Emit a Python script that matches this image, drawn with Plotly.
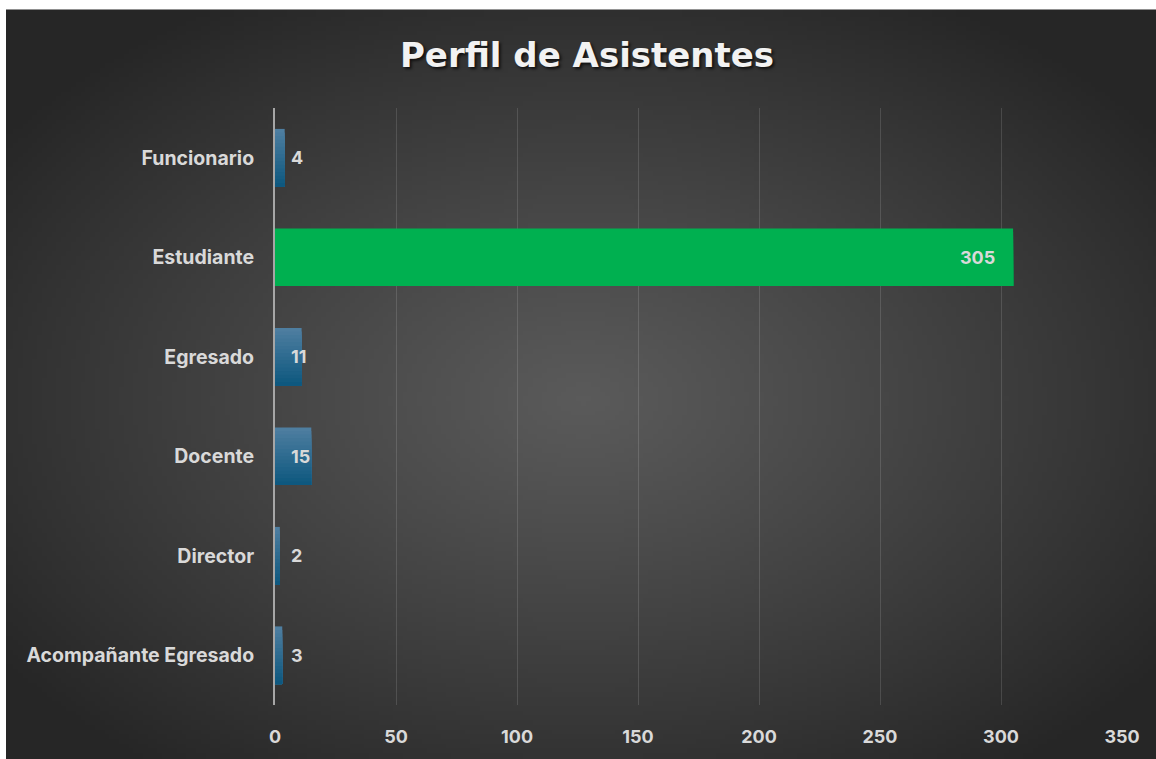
import base64, struct, zlib
import plotly.graph_objects as go

# ---- data ----
categories = ["Funcionario", "Estudiante", "Egresado", "Docente", "Director", "Acompañante Egresado"]
values = [4, 305, 11, 15, 2, 3]
highlight = [False, True, False, False, False, False]
x_ticks = [0, 50, 100, 150, 200, 250, 300, 350]
title_text = "Perfil de Asistentes"

W, H = 1156, 759
PL, PR, PT, PB = 275, 1122, 108, 708  # plot area in pixels


def radial_png(w, h, c_in, c_out, cx=0.5, cy=0.52):
    rows = []
    for j in range(h):
        row = bytearray([0])
        for i in range(w):
            dx = (i / (w - 1) - cx) / 0.62
            dy = (j / (h - 1) - cy) / 0.62
            r = min(1.0, (dx * dx + dy * dy) ** 0.5)
            t = r ** 1.1
            for k in range(3):
                row.append(int(round(c_in[k] + (c_out[k] - c_in[k]) * t)))
        rows.append(bytes(row))
    raw = b"".join(rows)

    def chunk(tag, data):
        c = struct.pack(">I", len(data)) + tag + data
        return c + struct.pack(">I", zlib.crc32(tag + data) & 0xffffffff)

    png = b"\x89PNG\r\n\x1a\n"
    png += chunk(b"IHDR", struct.pack(">IIBBBBB", w, h, 8, 2, 0, 0, 0))
    png += chunk(b"IDAT", zlib.compress(raw, 9))
    png += chunk(b"IEND", b"")
    return "data:image/png;base64," + base64.b64encode(png).decode()


bg_src = radial_png(240, 160, (0x5a, 0x5a, 0x5a), (0x26, 0x26, 0x26))

pw, ph = PR - PL, PB - PT
def px2x(px):
    return (px - PL) / pw
def py2y(py):
    return (PB - py) / ph

bg_x0, bg_y0, bg_x1, bg_y1 = 6, 9, W + 4, H + 4

fig = go.Figure()

# bars drawn as stacked overlapping bands to imitate the vertical gradient fill
BAR_W = 0.58
N = 16
step = BAR_W / N
top_c, bot_c = (78, 126, 160), (14, 88, 127)
green = "#00b050"
for k in range(N):
    t = k / (N - 1)
    c = tuple(int(round(top_c[i] + (bot_c[i] - top_c[i]) * t)) for i in range(3))
    col = "rgb(%d,%d,%d)" % c
    colors = [green if h else col for h in highlight]
    fig.add_trace(go.Bar(
        y=categories, x=values, orientation="h",
        marker=dict(color=colors, line=dict(width=0)),
        width=BAR_W - k * step, offset=-BAR_W / 2 + k * step,
        hoverinfo="x+y" if k == 0 else "skip",
    ))

label_font = dict(family="Inter, Roboto, sans-serif", size=18, color="#d9d9d9", weight="bold")
for c, v in zip(categories, values):
    if v > 100:
        fig.add_annotation(x=v, y=c, text=str(v), showarrow=False, xanchor="right",
                           xshift=-16, font=label_font)
    else:
        fig.add_annotation(x=0, y=c, text=str(v), showarrow=False, xanchor="left",
                           xshift=14, font=label_font)

fig.add_layout_image(dict(
    source=bg_src, xref="paper", yref="paper",
    x=px2x(bg_x0), y=py2y(bg_y0),
    sizex=px2x(bg_x1) - px2x(bg_x0), sizey=py2y(bg_y0) - py2y(bg_y1),
    xanchor="left", yanchor="top", sizing="stretch", layer="below",
))

fig.update_layout(
    width=W, height=H,
    margin=dict(l=PL, r=W - PR, t=PT, b=H - PB, pad=0),
    paper_bgcolor="#ffffff",
    plot_bgcolor="rgba(0,0,0,0)",
    showlegend=False,
    barmode="overlay",
    title=dict(
        text=title_text, x=587 / W, xref="container", xanchor="center",
        y=1 - 55 / H, yref="container", yanchor="middle",
        font=dict(family="DejaVu Sans, sans-serif", size=34, color="#f2f2f2",
                  weight="bold", shadow="2px 2px 3px rgba(0,0,0,0.7)"),
    ),
    xaxis=dict(
        range=[0, 350], tickvals=x_ticks, ticktext=[str(t) for t in x_ticks],
        showgrid=True, gridcolor="rgba(255,255,255,0.13)", gridwidth=1,
        zeroline=False, showline=False, ticks="",
        tickfont=dict(family="Inter, Roboto, sans-serif", size=18, color="#d9d9d9", weight="bold"),
        ticklabelstandoff=19, fixedrange=True,
    ),
    yaxis=dict(
        autorange="reversed", showgrid=False, zeroline=False,
        showline=True, linecolor="#a6a6a6", linewidth=2, ticks="",
        tickfont=dict(family="Inter, Roboto, sans-serif", size=19.5, color="#d9d9d9", weight="bold"),
        ticklabelstandoff=15, fixedrange=True,
    ),
)

fig.write_html(
    "out.html",
    config={"displayModeBar": False},
    post_script="document.body.style.margin='0';document.body.style.overflow='hidden';",
)
